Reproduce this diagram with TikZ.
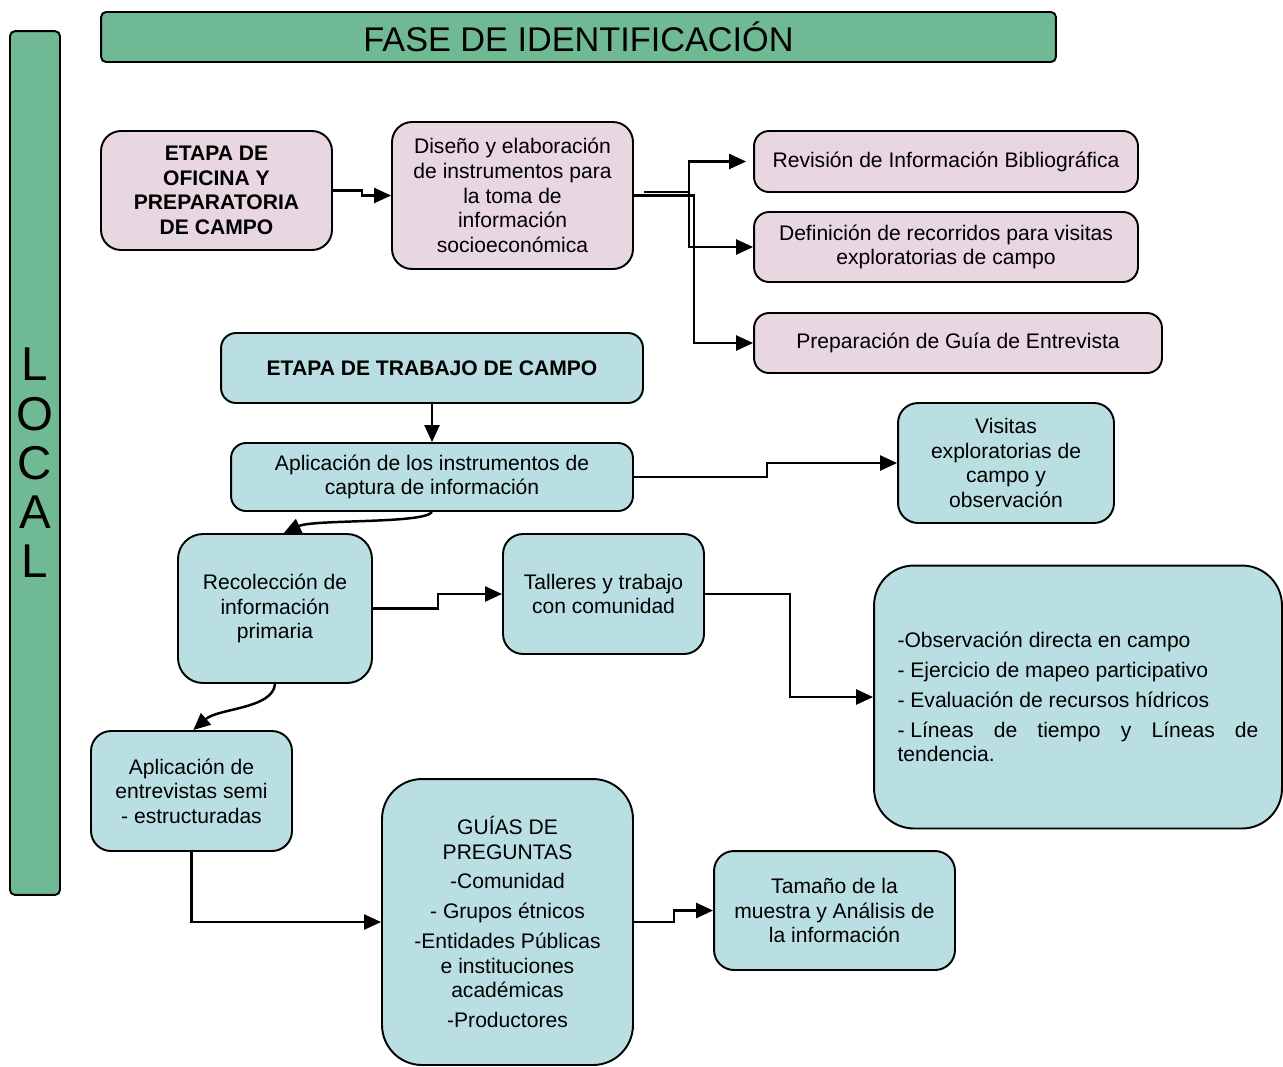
\documentclass[tikz,border=0pt]{standalone}
\usepackage{fontspec}
\setmainfont{Liberation Sans}
\usepackage{tikz}
\usetikzlibrary{arrows.meta}

\definecolor{fasegreen}{RGB}{111,185,148}
\definecolor{ofipink}{RGB}{232,214,224}
\definecolor{campoblue}{RGB}{186,223,226}

\begin{document}
\begin{tikzpicture}[x=0.02cm,y=-0.02cm,
  box/.style={draw,line width=1.1pt,rounded corners=0.3cm,align=center,inner sep=2pt,
    font=\fontsize{12}{14}\selectfont},
  pinkbox/.style={box,fill=ofipink},
  bluebox/.style={box,fill=campoblue},
  arr/.style={line width=1.4pt,-{Triangle[length=0.34cm,width=0.3cm]}}]

\useasboundingbox (0,0) rectangle (1283,1066);

\node[box,fill=fasegreen,rounded corners=0.1cm,minimum width=19.1cm,minimum height=1cm,
  font=\fontsize{19.5}{22}\selectfont] (fase) at (578.5,37) {FASE DE IDENTIFICACIÓN};
\node[box,fill=fasegreen,rounded corners=0.1cm,minimum width=1cm,minimum height=17.28cm,
  font=\fontsize{27}{28}\selectfont] (local) at (35,463) {L\\O\\C\\A\\L};

% oficina
\node[pinkbox,rounded corners=0.4cm,minimum width=4.62cm,minimum height=2.38cm,font=\fontsize{12}{14}\selectfont\bfseries]
  (ofi) at (216.5,190.5) {ETAPA DE\\OFICINA Y\\PREPARATORIA\\DE CAMPO};
\node[pinkbox,rounded corners=0.4cm,minimum width=4.82cm,minimum height=2.94cm]
  (dis) at (512.5,195.5) {Diseño y elaboración\\de instrumentos para\\la toma de\\información\\socioeconómica};
\node[pinkbox,minimum width=7.68cm,minimum height=1.22cm] (rev) at (946,161.5) {Revisión de Información Bibliográfica};
\node[pinkbox,minimum width=7.68cm,minimum height=1.4cm] (def) at (946,247) {Definición de recorridos para visitas\\exploratorias de campo};
\node[pinkbox,minimum width=8.16cm,minimum height=1.2cm] (pre) at (958,343) {Preparación de Guía de Entrevista};

% campo
\node[bluebox,minimum width=8.44cm,minimum height=1.4cm,font=\fontsize{12}{14}\selectfont\bfseries]
  (tra) at (432,368) {ETAPA DE TRABAJO DE CAMPO};
\node[bluebox,minimum width=8.04cm,minimum height=1.36cm] (apl) at (432,477) {Aplicación de los instrumentos de\\captura de información};
\node[bluebox,rounded corners=0.4cm,minimum width=4.32cm,minimum height=2.4cm] (vis) at (1006,463) {Visitas\\exploratorias de\\campo y\\observación};
\node[bluebox,rounded corners=0.5cm,minimum width=3.88cm,minimum height=2.98cm] (rec) at (275,608.5) {Recolección de\\información\\primaria};
\node[bluebox,rounded corners=0.4cm,minimum width=4.02cm,minimum height=2.4cm] (tal) at (603.5,594) {Talleres y trabajo\\con comunidad};
\node[bluebox,rounded corners=0.8cm,minimum width=8.16cm,minimum height=5.26cm,text width=7.22cm,align=justify]
  (obs) at (1078,697) {-Observación directa en campo\\[3pt]- Ejercicio de mapeo participativo\\[3pt]- Evaluación de recursos hídricos\\[3pt]\mbox{- Líneas} de tiempo y Líneas de \mbox{tendencia.}};
\node[bluebox,rounded corners=0.4cm,minimum width=4.02cm,minimum height=2.4cm] (ent) at (191.5,791) {Aplicación de\\entrevistas semi\\- estructuradas};
\node[bluebox,rounded corners=0.8cm,minimum width=5.02cm,minimum height=5.72cm]
  (gui) at (507.5,922) {GUÍAS DE\\PREGUNTAS\\[3pt]-Comunidad\\[3pt]- Grupos étnicos\\[3pt]-Entidades Públicas\\e instituciones\\académicas\\[3pt]-Productores};
\node[bluebox,rounded corners=0.4cm,minimum width=4.82cm,minimum height=2.38cm] (tam) at (834.5,910.5) {Tamaño de la\\muestra y Análisis de\\la información};

\draw[arr] (ofi.east) -- ++(29,0) |- (dis.west);
\draw[arr] ([shift={(10,-3.5)}]dis.east) -- ++(45,0) |- ([xshift=-4]rev.west);
\draw[arr] ([shift={(10,-3.5)}]dis.east) -- ++(45,0) |- (def.west);
\draw[arr] (dis.east) -- ++(60,0) |- (pre.west);

\draw[arr] (tra.south) -- (apl.north);
\draw[arr] (apl.east) -- ++(133,0) |- (vis.west);
\draw[arr] (apl.south) .. controls +(-8,12) and +(30,-14) .. ([xshift=5]rec.north);
\draw[arr] (rec.east) -- ++(65,0) |- (tal.west);
\draw[arr] (tal.east) -- ++(85,0) |- (obs.west);
\draw[arr] (rec.south) .. controls +(-2,25) and +(25,-22) .. ([xshift=1]ent.north);
\draw[arr] (ent.south) |- (gui.west);
\draw[arr] (gui.east) -- ++(40,0) |- (tam.west);

\end{tikzpicture}
\end{document}
